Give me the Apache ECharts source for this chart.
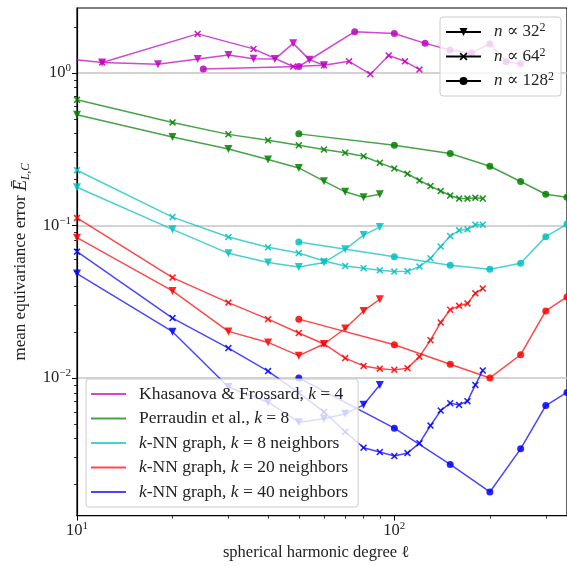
<!DOCTYPE html>
<html><head><meta charset="utf-8">
<script src="https://cdn.jsdelivr.net/npm/echarts@6/dist/echarts.min.js"></script>
<style>html,body{margin:0;padding:0;background:#fff}#c{width:567px;height:566px}</style>
</head><body><div id="c"></div>
<script>
const FONT = '"Liberation Serif", "DejaVu Serif", serif';

// ---- data (ℓ, error) ----
const khTriL = [6, 12, 18, 24, 30, 36, 42, 48, 54, 60];
const khTriV = [1.36, 1.17, 1.14, 1.23, 1.31, 1.235, 1.23, 1.56, 1.22, 1.12];
const khXL = [12, 24, 36, 48, 60, 72, 84, 96, 108, 120];
const khXV = [1.17, 1.80, 1.435, 1.10, 1.12, 1.19, 0.98, 1.30, 1.19, 1.05];
const khCL = [25, 50, 75, 100, 125, 150, 175, 200, 225, 250];
const khCV = [1.06, 1.10, 1.86, 1.81, 1.56, 1.41, 1.35, 1.55, 1.18, 1.145];

const triL = [10, 20, 30, 40, 50, 60, 70, 80, 90];
const xL = [10, 20, 30, 40, 50, 60, 70, 80, 90, 100, 110, 120, 130, 140, 150, 160, 170, 180, 190];
const cL = [50, 100, 150, 200, 250, 300, 350];

const peTriV = [0.531, 0.380, 0.317, 0.270, 0.238, 0.195, 0.166, 0.153, 0.160];
const peXV = [0.666, 0.473, 0.395, 0.361, 0.335, 0.314, 0.299, 0.284, 0.257, 0.236, 0.218, 0.197, 0.181, 0.168, 0.157, 0.150, 0.150, 0.152, 0.150];
const peCV = [0.398, 0.335, 0.296, 0.244, 0.194, 0.160, 0.153];

const k8TriV = [0.178, 0.0942, 0.0656, 0.0571, 0.0534, 0.0571, 0.0697, 0.0864, 0.0975];
const k8XV = [0.230, 0.1133, 0.0839, 0.0718, 0.0659, 0.0585, 0.0542, 0.0524, 0.0508, 0.0498, 0.0501, 0.0537, 0.0609, 0.0726, 0.0851, 0.0928, 0.0942, 0.101, 0.101];
const k8CV = [0.0778, 0.0624, 0.0548, 0.0516, 0.0565, 0.0844, 0.102];

const k20TriV = [0.0831, 0.0372, 0.0202, 0.0171, 0.0140, 0.0167, 0.0211, 0.0275, 0.0328];
const k20XV = [0.112, 0.0455, 0.0312, 0.0243, 0.0197, 0.0167, 0.0135, 0.0120, 0.0115, 0.0113, 0.0116, 0.0138, 0.0177, 0.0231, 0.0280, 0.0297, 0.0308, 0.0359, 0.0386];
const k20CV = [0.0243, 0.0165, 0.0123, 0.0100, 0.0142, 0.0275, 0.034];

const k40TriV = [0.0483, 0.0201, 0.00873, 0.00694, 0.00513, 0.00540, 0.00582, 0.00667, 0.0090];
const k40XV = [0.0673, 0.0247, 0.0157, 0.0111, 0.00798, 0.00600, 0.00444, 0.00349, 0.00327, 0.00308, 0.00322, 0.00374, 0.00488, 0.00611, 0.00684, 0.00666, 0.00705, 0.0090, 0.0112];
const k40CV = [0.0100, 0.00469, 0.00271, 0.00179, 0.00343, 0.00659, 0.00804];

const methodNames = ['kh', 'pe', 'k8', 'k20', 'k40'];
const methodLabels = {
  kh: 'Khasanova & Frossard, {i|k} = 4',
  pe: 'Perraudin et al., {i|k} = 8',
  k8: '{i|k}-NN graph, {i|k} = 8 neighbors',
  k20: '{i|k}-NN graph, {i|k} = 20 neighbors',
  k40: '{i|k}-NN graph, {i|k} = 40 neighbors'
};
const resNames = ['n32', 'n64', 'n128'];
const resLabels = {
  n32: '{i|n} ∝ {b|32}{s|2}',
  n64: '{i|n} ∝ {b|64}{s|2}',
  n128: '{i|n} ∝ {b|128}{s|2}'
};

const xMajor = [10, 100];
const xMinor = [20, 30, 40, 50, 60, 70, 80, 90, 200, 300];
const yMajor = [0.01, 0.1, 1];
const yMinor = [0.002, 0.003, 0.004, 0.005, 0.006, 0.007, 0.008, 0.009,
  0.02, 0.03, 0.04, 0.05, 0.06, 0.07, 0.08, 0.09,
  0.2, 0.3, 0.4, 0.5, 0.6, 0.7, 0.8, 0.9, 2];

// ---- styling ----
const COLORS = { kh: '#bf00bf', pe: '#008000', k8: '#00bfbf', k20: '#ff0000', k40: '#0000ff' };
const XPATH = 'path://M0,1.6 L1.6,0 L5,3.4 L8.4,0 L10,1.6 L6.6,5 L10,8.4 L8.4,10 L5,6.6 L1.6,10 L0,8.4 L3.4,5 Z';
const MARK = {
  tri: { symbol: 'triangle', symbolRotate: 180, symbolSize: 8 },
  x: { symbol: XPATH, symbolRotate: 0, symbolSize: 7 },
  c: { symbol: 'circle', symbolRotate: 0, symbolSize: 7 }
};

function line(key, mark, ls, vs) {
  const c = COLORS[key];
  return Object.assign({
    type: 'line', name: key + '_' + mark,
    data: ls.map((l, i) => [l, vs[i]]),
    lineStyle: { color: c, width: 1.5, opacity: 0.72 },
    itemStyle: { color: c, opacity: 0.85 },
    showAllSymbol: true, clip: true, silent: true, z: 3
  }, MARK[mark]);
}

const series = [
  line('kh', 'tri', khTriL, khTriV), line('kh', 'x', khXL, khXV), line('kh', 'c', khCL, khCV),
  line('pe', 'tri', triL, peTriV), line('pe', 'x', xL, peXV), line('pe', 'c', cL, peCV),
  line('k8', 'tri', triL, k8TriV), line('k8', 'x', xL, k8XV), line('k8', 'c', cL, k8CV),
  line('k20', 'tri', triL, k20TriV), line('k20', 'x', xL, k20XV), line('k20', 'c', cL, k20CV),
  line('k40', 'tri', triL, k40TriV), line('k40', 'x', xL, k40XV), line('k40', 'c', cL, k40CV)
];
// legend-only series
methodNames.forEach(k => series.push({
  type: 'line', name: k, data: [], symbol: 'none',
  lineStyle: { color: COLORS[k], width: 1.5, opacity: 0.72 }, itemStyle: { color: COLORS[k], opacity: 0.72 }
}));
const resMarks = { n32: 'tri', n64: 'x', n128: 'c' };
resNames.forEach(k => series.push(Object.assign({
  type: 'line', name: k, data: [],
  lineStyle: { color: '#000', width: 1.5 }, itemStyle: { color: '#000' }
}, MARK[resMarks[k]])));

const FS = 16.5;
const txt = { fontFamily: FONT, fontSize: FS, color: '#222' };
const richBase = {
  b: { fontFamily: FONT, fontSize: FS, color: '#222', lineHeight: 20 },
  s: { fontFamily: FONT, fontSize: 11, color: '#222', verticalAlign: 'top', lineHeight: 20 }
};
const supFmt = v => {
  const e = Math.round(Math.log10(v));
  return '{b|10}{s|' + String(e).replace('-', '−') + '}';
};

const option = {
  animation: false,
  backgroundColor: '#fff',
  grid: { left: 77, top: 8, right: -2, bottom: 49, show: true, borderColor: '#000', borderWidth: 1.2, backgroundColor: 'transparent' },
  xAxis: [
    {
      type: 'log', logBase: 10, min: 10, max: 350, position: 'bottom',
      name: 'spherical harmonic degree ℓ', nameLocation: 'middle', nameGap: 23,
      nameTextStyle: Object.assign({}, txt, { padding: [0, 12, 0, 0] }),
      axisLine: { show: true, onZero: false, lineStyle: { color: '#000', width: 1.2 } },
      axisTick: { show: true, customValues: xMajor, length: 5, lineStyle: { color: '#000', width: 1 } },
      axisLabel: { customValues: xMajor, formatter: supFmt, margin: 5, rich: richBase },
      splitLine: { show: false }, minorTick: { show: false }
    },
    {
      type: 'log', logBase: 10, min: 10, max: 350, position: 'bottom',
      axisLine: { show: false },
      axisTick: { show: true, customValues: xMinor, length: 3, lineStyle: { color: '#000', width: 0.8 } },
      axisLabel: { show: false }, splitLine: { show: false }
    }
  ],
  yAxis: [
    {
      type: 'log', logBase: 10, min: 0.001253, max: 2.66, position: 'left',
      name: '{t|mean equivariance error }{e|Ē}{u|L,C}', nameLocation: 'middle', nameGap: 44, nameRotate: 90,
      nameTextStyle: {
        rich: {
          t: { fontFamily: FONT, fontSize: 17, color: '#222', lineHeight: 22 },
          e: { fontFamily: FONT, fontSize: 18, color: '#222', fontStyle: 'italic', lineHeight: 22 },
          u: { fontFamily: FONT, fontSize: 11.5, color: '#222', fontStyle: 'italic', verticalAlign: 'bottom', lineHeight: 22 }
        }
      },
      axisLine: { show: true, onZero: false, lineStyle: { color: '#000', width: 1.2 } },
      axisTick: { show: true, customValues: yMajor, length: 5, lineStyle: { color: '#000', width: 1 } },
      axisLabel: { customValues: yMajor, formatter: supFmt, margin: 6, rich: richBase },
      splitLine: { show: true, lineStyle: { color: '#c4c4c4', width: 1.5 } }, minorTick: { show: false }
    },
    {
      type: 'log', logBase: 10, min: 0.001253, max: 2.66, position: 'left',
      axisLine: { show: false },
      axisTick: { show: true, customValues: yMinor, length: 3, lineStyle: { color: '#000', width: 0.8 } },
      axisLabel: { show: false }, splitLine: { show: false }
    }
  ],
  legend: [
    {
      data: methodNames, orient: 'vertical', left: 86, top: 379,
      icon: 'rect', itemWidth: 35, itemHeight: 2, itemGap: 6.5,
      backgroundColor: 'rgba(255,255,255,0.8)', borderColor: '#cccccc', borderWidth: 1, borderRadius: 3,
      padding: [6, 10, 6, 5], selectedMode: false,
      formatter: n => methodLabels[n],
      textStyle: { fontFamily: FONT, fontSize: 17.5, color: '#222', padding: [0, 0, 0, 8], lineHeight: 18,
        rich: { i: { fontFamily: FONT, fontSize: 17.5, color: '#222', fontStyle: 'italic', lineHeight: 18 } } }
    },
    {
      data: resNames, orient: 'vertical', left: 440, top: 17,
      itemWidth: 35, itemHeight: 10, itemGap: 4.5,
      backgroundColor: 'rgba(255,255,255,0.8)', borderColor: '#cccccc', borderWidth: 1, borderRadius: 3,
      padding: [5, 7, 5, 5], selectedMode: false,
      formatter: n => resLabels[n],
      textStyle: { fontFamily: FONT, fontSize: 17, color: '#222', padding: [0, 0, 0, 8], lineHeight: 20,
        rich: {
          i: { fontFamily: FONT, fontSize: 17, color: '#222', fontStyle: 'italic', lineHeight: 20 },
          b: { fontFamily: FONT, fontSize: 17, color: '#222', lineHeight: 20 },
          s: { fontFamily: FONT, fontSize: 12, color: '#222', verticalAlign: 'top', lineHeight: 20 }
        } }
    }
  ],
  series: series
};
option.series.forEach(s => { s.xAxisIndex = 0; s.yAxisIndex = 0; });
const chart = echarts.init(document.getElementById('c'), null, { renderer: 'canvas' });
chart.setOption(option);
</script>
</body></html>
